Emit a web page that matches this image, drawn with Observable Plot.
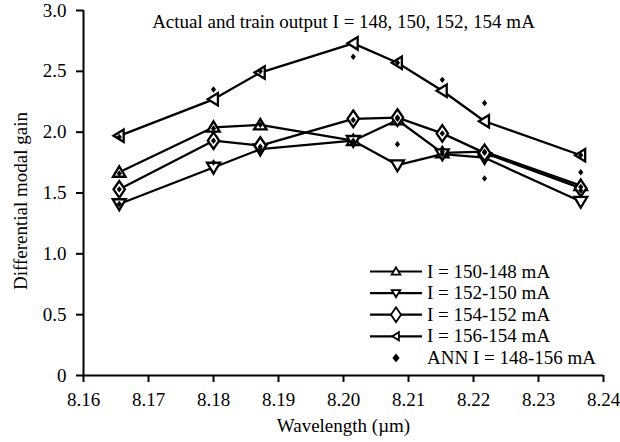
<!DOCTYPE html>
<html><head><meta charset="utf-8">
<script src="https://cdn.jsdelivr.net/npm/d3@7"></script>
<script src="https://cdn.jsdelivr.net/npm/@observablehq/plot@0.6"></script>
<style>
body{margin:0;background:#fff}
#wrap{position:relative;width:620px;height:442px;font-family:"Liberation Serif","Times New Roman",serif}
#wrap svg, #wrap svg text{font-family:"Liberation Serif","Times New Roman",serif !important}
#legend{position:absolute;left:0;top:0;pointer-events:none}
</style>
</head><body><div id="wrap"></div>
<script>
// ---- data ----
const wavelengths = [8.1655, 8.1800, 8.1872, 8.2015, 8.2083, 8.2152, 8.2217, 8.2365];
const seriesNames = ["I = 150-148 mA", "I = 152-150 mA", "I = 154-152 mA", "I = 156-154 mA"];
const gain150_148 = [1.67, 2.04, 2.06, 1.93, 2.10, 1.83, 1.84, 1.56];
const gain152_150 = [1.41, 1.71, 1.86, 1.93, 1.73, 1.82, 1.79, 1.43];
const gain154_152 = [1.53, 1.93, 1.89, 2.11, 2.12, 1.99, 1.83, 1.54];
const gain156_154 = [1.97, 2.27, 2.49, 2.73, 2.57, 2.34, 2.09, 1.81];
const ann150_148 = [1.66, 2.03, 2.06, 1.93, 2.11, 1.84, 1.83, 1.55];
const ann152_150 = [1.41, 1.75, 1.86, 1.92, 1.90, 1.82, 1.62, 1.52];
const ann154_152 = [1.53, 1.93, 1.88, 2.10, 2.12, 1.99, 1.84, 1.67];
const ann156_154 = [1.96, 2.35, 2.50, 2.62, 2.57, 2.43, 2.24, 1.81];
const annName = "ANN I = 148-156 mA";
const titleText = "Actual and train output I = 148, 150, 152, 154 mA";
const xLabel = "Wavelength (\u00b5m)";
const yLabel = "Differential modal gain";
const xTicks = [8.16, 8.17, 8.18, 8.19, 8.20, 8.21, 8.22, 8.23, 8.24];
const yTicks = [0, 0.5, 1.0, 1.5, 2.0, 2.5, 3.0];

// ---- symbols ----
function mkSym(pts) {
  return {draw(ctx, size) {
    const r = Math.sqrt(size / Math.PI);
    ctx.moveTo(pts[0][0] * r, pts[0][1] * r);
    for (let i = 1; i < pts.length; i++) ctx.lineTo(pts[i][0] * r, pts[i][1] * r);
    ctx.closePath();
  }};
}
const symUp = mkSym([[0, -1.15], [1.2, 0.85], [-1.2, 0.85]]);
const symDown = mkSym([[0, 1.2], [1.25, -0.9], [-1.25, -0.9]]);
const symDiamond = mkSym([[0, -1.6], [1.1, 0], [0, 1.6], [-1.1, 0]]);
const symLeft = mkSym([[-1.1, 0], [0.85, -1.2], [0.85, 1.2]]);
const symAnn = mkSym([[0, -0.62], [0.5, 0], [0, 0.62], [-0.5, 0]]);
const syms = [symUp, symDown, symDiamond, symLeft];

const gains = [gain150_148, gain152_150, gain154_152, gain156_154];
const anns = [ann150_148, ann152_150, ann154_152, ann156_154];
const rows = gains.map((g, s) => g.map((v, i) => ({x: wavelengths[i], y: v, series: seriesNames[s]})));
const annRows = anns.flatMap(a => a.map((v, i) => ({x: wavelengths[i], y: v})));

const FS = 19;
const FF = '"Liberation Serif","Times New Roman",serif';
const chart = Plot.plot({
  width: 620, height: 442,
  marginLeft: 83, marginRight: 17, marginTop: 10, marginBottom: 67,
  style: {fontFamily: FF, background: "#fff"},
  x: {domain: [8.16, 8.24]},
  y: {domain: [0, 3]},
  marks: [
    Plot.axisX({ticks: xTicks, tickFormat: d => d.toFixed(2), tickSize: 7, tickPadding: 10, strokeWidth: 2, fontSize: FS, fontFamily: FF, label: null, fill: "#000", stroke: "#000"}),
    Plot.axisY({ticks: yTicks, tickFormat: d => d === 0 ? "0" : d.toFixed(1), tickSize: 7, tickPadding: 10, strokeWidth: 2, fontSize: FS, fontFamily: FF, label: null, fill: "#000", stroke: "#000"}),
    Plot.ruleY([0], {stroke: "#000", strokeWidth: 2}),
    Plot.ruleX([8.16], {stroke: "#000", strokeWidth: 2}),
    ...rows.map(r => Plot.line(r, {x: "x", y: "y", stroke: "#000", strokeWidth: 2.3})),
    ...rows.map((r, s) => Plot.dot(r, {x: "x", y: "y", symbol: syms[s], r: 5.2, fill: "#fff", stroke: "#000", strokeWidth: 2.3})),
    Plot.dot(annRows, {x: "x", y: "y", symbol: symAnn, r: 5.2, fill: "#000", stroke: "none"}),
    Plot.text([titleText], {frameAnchor: "top", dy: 17, lineAnchor: "bottom", fontSize: FS, fontFamily: FF, fill: "#000"}),
    Plot.text([xLabel], {frameAnchor: "bottom", dy: 56, lineAnchor: "bottom", fontSize: FS, fontFamily: FF, fill: "#000"})
  ]
});
const wrap = document.getElementById("wrap");
wrap.appendChild(chart);

// ---- overlay: y label + legend ----
const lg = d3.select(wrap).append("svg").attr("id", "legend").attr("width", 620).attr("height", 442);
lg.append("text").attr("transform", "translate(27,201) rotate(-90)").attr("text-anchor", "middle")
  .attr("font-size", FS).attr("font-family", FF).attr("fill", "#000").text(yLabel);
const legendItems = [
  {name: seriesNames[0], sym: symUp, r: 3.6, line: true, fill: "#fff"},
  {name: seriesNames[1], sym: symDown, r: 3.4, line: true, fill: "#fff"},
  {name: seriesNames[2], sym: symDiamond, r: 4.6, line: true, fill: "#fff"},
  {name: seriesNames[3], sym: symLeft, r: 3.4, line: true, fill: "#fff"},
  {name: annName, sym: symAnn, r: 7.2, line: false, fill: "#000"}
];
const lx0 = 370, lx1 = 422, lmx = 396, ltx = 427, ly0 = 271.5, ldy = 21.6;
legendItems.forEach((it, i) => {
  const y = ly0 + i * ldy;
  const g = lg.append("g");
  if (it.line) g.append("line").attr("x1", lx0).attr("x2", lx1).attr("y1", y).attr("y2", y).attr("stroke", "#000").attr("stroke-width", 2.2);
  const p = d3.path();
  it.sym.draw(p, Math.PI * it.r * it.r);
  g.append("path").attr("d", p.toString()).attr("transform", `translate(${lmx},${y})`)
    .attr("fill", it.fill).attr("stroke", it.line ? "#000" : "none").attr("stroke-width", 1.8);
  g.append("text").attr("x", ltx).attr("y", y + 0.32 * FS).attr("font-size", FS).attr("font-family", FF).attr("fill", "#000").text(it.name);
});
</script>
</body></html>
